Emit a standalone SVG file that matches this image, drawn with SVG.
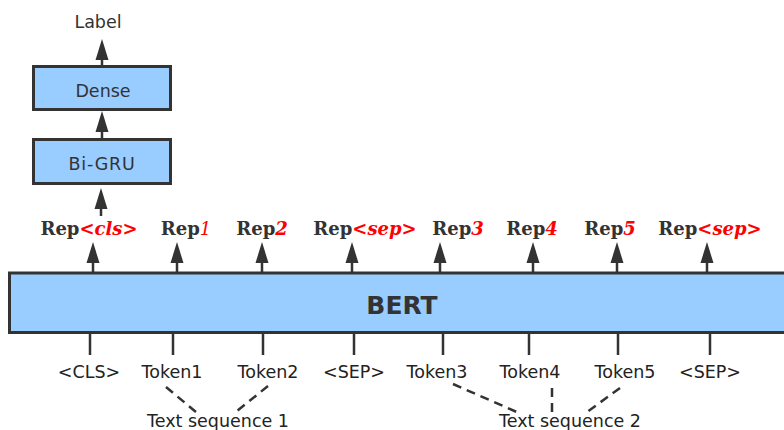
<svg xmlns="http://www.w3.org/2000/svg" width="784" height="430" viewBox="0 0 784 430">
  <defs>
    <!-- solid triangular head; the tip sits 10px beyond the line end -->
    <marker id="head" markerUnits="userSpaceOnUse" markerWidth="22" markerHeight="14" viewBox="0 0 22 14" refX="11" refY="7" orient="auto">
      <path d="M0,0.5 L21,7 L0,13.5 Z" fill="#333"/>
    </marker>
    <style>
      .box { fill: #99ccff; stroke: #333; stroke-width: 3; }
      .hand { font-family: "DejaVu Sans", "Noto Sans", sans-serif; fill: #333; text-anchor: middle; }
      .tok { font-family: "DejaVu Sans", Verdana, sans-serif; font-size: 17.5px; fill: #222; text-anchor: middle; }
      .rep { font-family: "DejaVu Serif", "Liberation Serif", serif; font-weight: bold; font-size: 18px; fill: #333; text-anchor: middle; }
      .idx { fill: #ff0000; font-style: italic; }
      .arrow { stroke: #333; stroke-width: 2.5; fill: none; marker-end: url(#head); }
      .stem { stroke: #333; stroke-width: 2.5; fill: none; }
      .dash { stroke: #333; stroke-width: 2.5; fill: none; stroke-dasharray: 9 6; }
    </style>
  </defs>

  <!-- classifier head -->
  <g id="label">
    <text class="hand" x="98" y="28" font-size="17.5">Label</text>
  </g>
  <g id="dense">
    <rect class="box" x="33.5" y="66.5" width="137" height="43"/>
    <text class="hand" x="103" y="97" font-size="17.5">Dense</text>
  </g>
  <g id="bigru">
    <rect class="box" x="33.5" y="139.5" width="137" height="44"/>
    <text class="hand" x="102" y="170" font-size="17.5" letter-spacing="0.8">Bi-GRU</text>
  </g>

  <!-- encoder -->
  <g id="bert">
    <rect class="box" x="9.5" y="273" width="800" height="59.5"/>
    <text class="hand" x="402" y="314" font-size="25" font-weight="bold">BERT</text>
  </g>

  <!-- output representations -->
  <g id="reps">
    <text class="rep" x="89" y="235">Rep<tspan class="idx">&lt;cls&gt;</tspan></text>
    <text class="rep" x="186" y="235">Rep<tspan class="idx" font-weight="normal">1</tspan></text>
    <text class="rep" x="262" y="235">Rep<tspan class="idx">2</tspan></text>
    <text class="rep" x="365" y="235">Rep<tspan class="idx">&lt;sep&gt;</tspan></text>
    <text class="rep" x="458" y="235">Rep<tspan class="idx">3</tspan></text>
    <text class="rep" x="532" y="235">Rep<tspan class="idx">4</tspan></text>
    <text class="rep" x="610" y="235">Rep<tspan class="idx">5</tspan></text>
    <text class="rep" x="710" y="235">Rep<tspan class="idx">&lt;sep&gt;</tspan></text>
  </g>

  <!-- input tokens -->
  <g id="tokens">
    <text class="tok" x="89" y="378">&lt;CLS&gt;</text>
    <text class="tok" x="172" y="378">Token1</text>
    <text class="tok" x="268" y="378">Token2</text>
    <text class="tok" x="354" y="378">&lt;SEP&gt;</text>
    <text class="tok" x="437" y="378">Token3</text>
    <text class="tok" x="530" y="378">Token4</text>
    <text class="tok" x="625" y="378">Token5</text>
    <text class="tok" x="710" y="378">&lt;SEP&gt;</text>
  </g>

  <g id="segments">
    <text class="tok" x="218" y="427">Text sequence 1</text>
    <text class="tok" x="570" y="427">Text sequence 2</text>
  </g>

  <g id="connectors">
    <!-- head chain -->
    <line class="arrow" x1="102" y1="66" x2="102" y2="49"/>
    <line class="arrow" x1="102" y1="139" x2="102" y2="121"/>
    <line class="arrow" x1="101" y1="216" x2="101" y2="198"/>
    <!-- BERT to representations -->
    <line class="arrow" x1="93" y1="273" x2="93" y2="252"/>
    <line class="arrow" x1="177" y1="273" x2="177" y2="252"/>
    <line class="arrow" x1="262" y1="273" x2="262" y2="252"/>
    <line class="arrow" x1="352" y1="273" x2="352" y2="252"/>
    <line class="arrow" x1="440" y1="273" x2="440" y2="252"/>
    <line class="arrow" x1="533" y1="273" x2="533" y2="252"/>
    <line class="arrow" x1="617" y1="273" x2="617" y2="252"/>
    <line class="arrow" x1="707" y1="273" x2="707" y2="252"/>
    <!-- tokens into BERT -->
    <line class="stem" x1="90" y1="333" x2="90" y2="355"/>
    <line class="stem" x1="173" y1="333" x2="173" y2="355"/>
    <line class="stem" x1="263" y1="333" x2="263" y2="355"/>
    <line class="stem" x1="354" y1="333" x2="354" y2="355"/>
    <line class="stem" x1="443" y1="333" x2="443" y2="355"/>
    <line class="stem" x1="529" y1="333" x2="529" y2="355"/>
    <line class="stem" x1="618" y1="333" x2="618" y2="355"/>
    <line class="stem" x1="710" y1="333" x2="710" y2="355"/>
    <!-- token grouping -->
    <line class="dash" x1="166" y1="387" x2="196" y2="412"/>
    <line class="dash" x1="268" y1="386" x2="237" y2="411"/>
    <line class="dash" x1="453" y1="384" x2="519" y2="413"/>
    <line class="dash" x1="552" y1="388" x2="552" y2="414"/>
    <line class="dash" x1="620" y1="388" x2="587" y2="412"/>
  </g>
</svg>
